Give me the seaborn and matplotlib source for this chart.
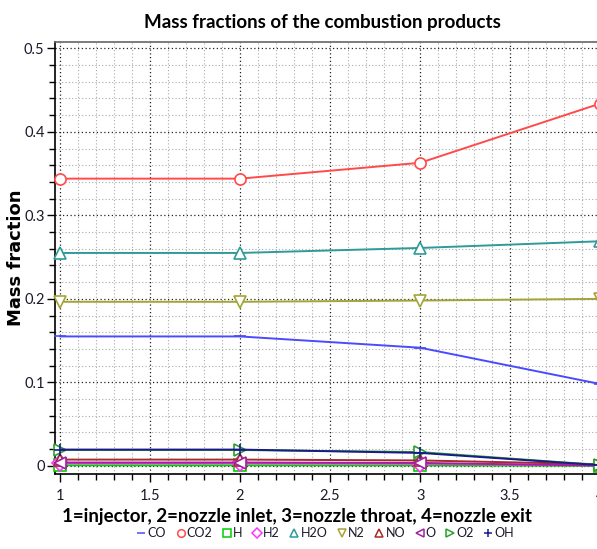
import matplotlib
matplotlib.use("Agg")
import matplotlib.pyplot as plt
from matplotlib.ticker import MultipleLocator
from matplotlib.lines import Line2D
import seaborn as sns
import pandas as pd

# Stations along the engine and species mass fractions
stations = [1, 2, 3, 4]
species = ["CO", "CO2", "H", "H2", "H2O", "N2", "NO", "O", "O2", "OH"]
co = [0.155, 0.155, 0.1415, 0.098]
co2 = [0.344, 0.344, 0.363, 0.434]
h = [0.0006, 0.0006, 0.0005, 0.0001]
h2 = [0.003, 0.003, 0.0025, 0.0005]
h2o = [0.255, 0.255, 0.261, 0.269]
n2 = [0.1965, 0.1965, 0.198, 0.200]
no = [0.0075, 0.0075, 0.0065, 0.002]
o = [0.004, 0.004, 0.0035, 0.0004]
o2 = [0.019, 0.019, 0.0165, 0.001]
oh = [0.0195, 0.0195, 0.0155, 0.0008]

values = [co, co2, h, h2, h2o, n2, no, o, o2, oh]
colors = ["#4a4aff", "#ff4a4a", "#00d000", "#ff33ff", "#2e9a9a",
          "#a3a336", "#a52a2a", "#a020a0", "#2aa02a", "#1a1a8c"]
markers = ["_", "o", "s", "D", "^", "v", "^", "<", ">", "+"]

df = pd.DataFrame([
    {"station": x, "fraction": v, "species": s}
    for s, vals in zip(species, values) for x, v in zip(stations, vals)
])

sns.set_theme(style="white")
plt.rcParams["font.family"] = ["Lato", "DejaVu Sans"]
plt.rcParams["text.color"] = "black"

fig = plt.figure(figsize=(5.97, 5.49), dpi=100)
ax = fig.add_axes([0.092, 0.137, 0.915, 0.787])

palette = dict(zip(species, colors))
sns.lineplot(data=df, x="station", y="fraction", hue="species",
             hue_order=species, palette=palette, ax=ax,
             legend=False, linewidth=1.4, zorder=3)
for ln, c, m in zip(ax.lines, colors, markers):
    ln.set_marker(m)
    ln.set_markersize(8)
    ln.set_markerfacecolor("white")
    ln.set_markeredgecolor(c)
    ln.set_markeredgewidth(1.2)
    ln.set_clip_on(False)

ax.set_xlim(0.972, 4.005)
ax.set_ylim(-0.0095, 0.508)
ax.xaxis.set_minor_locator(MultipleLocator(0.1))
ax.yaxis.set_minor_locator(MultipleLocator(0.02))
ax.set_xticks([1, 1.5, 2, 2.5, 3, 3.5, 4])
ax.set_xticklabels(["1", "1.5", "2", "2.5", "3", "3.5", "4"])
ax.set_yticks([0, 0.1, 0.2, 0.3, 0.4, 0.5])
ax.set_yticklabels(["0", "0.1", "0.2", "0.3", "0.4", "0.5"])

ax.grid(True, which="major", linestyle=(0, (1, 2)), color="#222222", linewidth=0.9)
ax.grid(True, which="minor", linestyle=(0, (1, 2)), color="#aaaaaa", linewidth=0.8)
ax.set_axisbelow(True)

ax.tick_params(axis="both", which="major", direction="out", length=6, width=1,
               color="black", labelsize=10.5, labelcolor="#1a1a2a", pad=1.5,
               left=True, bottom=True)
ax.tick_params(axis="x", which="major", pad=5)
ax.tick_params(axis="both", which="minor", direction="out", length=4, width=1,
               color="black", left=True, bottom=True)

for side in ["left", "bottom"]:
    ax.spines[side].set_color("black")
    ax.spines[side].set_linewidth(1.2)
ax.spines["top"].set_color("#666666")
ax.spines["top"].set_linewidth(1.2)
ax.spines["right"].set_visible(False)

ax.set_title("Mass fractions of the combustion products", fontsize=13.5,
             fontweight="bold", pad=10, x=0.49, color="black")
ax.set_xlabel("1=injector, 2=nozzle inlet, 3=nozzle throat, 4=nozzle exit",
              fontsize=13.5, fontweight="bold", color="black")
ax.xaxis.set_label_coords(0.443, -0.08)
ax.set_ylabel("Mass fraction", fontsize=13, fontweight="bold",
              color="black", family="DejaVu Sans")
ax.yaxis.set_label_coords(-0.054, 0.5)

handles = [Line2D([], [], linestyle="none", marker=m, color=c,
                  markerfacecolor="white", markeredgecolor=c, markersize=5.5,
                  markeredgewidth=1.1)
           for m, c in zip(markers, colors)]
fig.legend(handles, species, loc="center", bbox_to_anchor=(0.546, 0.029),
           ncol=10, frameon=False, fontsize=9, handlelength=0.6,
           handletextpad=0.2, columnspacing=0.85, labelcolor="#1a1a2a")

fig.savefig("out.png", dpi=100)
